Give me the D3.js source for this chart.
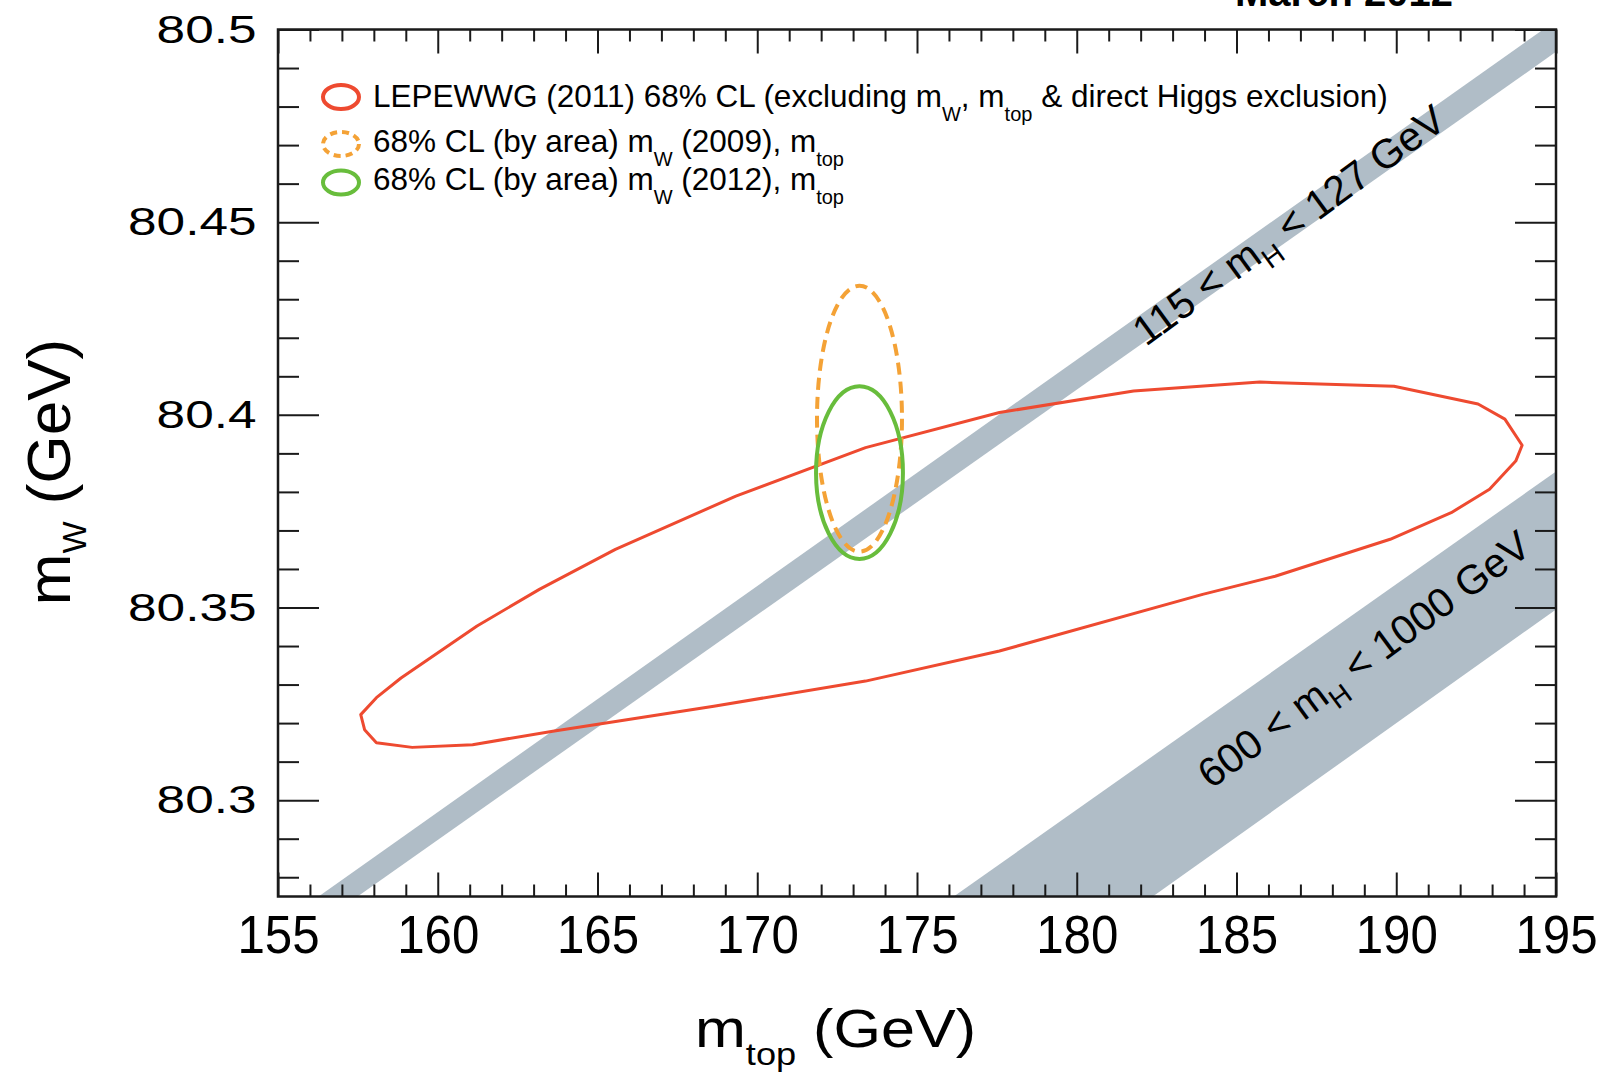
<!DOCTYPE html>
<html>
<head>
<meta charset="utf-8">
<script src="https://cdn.jsdelivr.net/npm/d3@7"></script>
<style>
body { margin: 0; background: #fff; }
svg { display: block; font-family: "Liberation Sans", Arial, Helvetica, sans-serif; }
</style>
</head>
<body>
<svg id="chart" width="1605" height="1081"></svg>
<script>
// axis ranges and ticks
var xDomain = [155, 195];
var yDomain = [80.275, 80.5];
var xTicks = [155, 160, 165, 170, 175, 180, 185, 190, 195];
var yTicks = [80.3, 80.35, 80.4, 80.45, 80.5];
var yTickLabels = ["80.3", "80.35", "80.4", "80.45", "80.5"];

// LEPEWWG (2011) 68% CL contour
var contourMtop = [157.59, 158.08, 158.85, 161.23, 163.18, 165.56, 169.33, 173.39, 177.58, 181.78,
                   185.73, 189.93, 192.56, 193.40, 193.94, 193.74, 192.92, 191.72, 189.81, 186.21,
                   183.94, 177.58, 173.39, 168.64, 163.60, 161.09, 159.20, 158.08, 157.71];
var contourMw   = [80.3222, 80.3266, 80.3317, 80.3452, 80.3547, 80.3651, 80.3789, 80.3915, 80.4006, 80.4062,
                   80.4085, 80.4074, 80.4028, 80.3989, 80.3921, 80.3880, 80.3807, 80.3746, 80.3677, 80.3581,
                   80.3534, 80.3387, 80.3309, 80.3244, 80.3179, 80.3144, 80.3137, 80.3149, 80.3183];

// direct measurements (68% CL by area): mW 2009 and mW 2012 with mtop
var measYear    = ["2009", "2012"];
var measMtop    = [173.2, 173.2];
var measMtopErr = [1.33, 1.36];
var measMw      = [80.399, 80.385];
var measMwErr   = [0.0345, 0.0224];

// SM prediction bands for two mH ranges (corners inside the frame)
var bandName   = ["115 < m_{H} < 127 GeV", "600 < m_{H} < 1000 GeV"];
var bandMtop   = [[156.27, 194.6, 195, 195, 157.49], [176.15, 195, 195, 182.38]];
var bandMw     = [[80.275, 80.5, 80.5, 80.4942, 80.275], [80.275, 80.3853, 80.3495, 80.275]];
var bandLabelMtop = [186.9, 189.25];
var bandLabelMw   = [80.4463, 80.3336];

var legendText = [
  "LEPEWWG (2011) 68% CL (excluding m_{W}, m_{top} & direct Higgs exclusion)",
  "68% CL (by area) m_{W} (2009), m_{top}",
  "68% CL (by area) m_{W} (2012), m_{top}"
];

var red = "#ee4a30", orange = "#f4a236", green = "#68bd3c", bandColor = "#b0bdc7";

var svg = d3.select("#chart");
var x = d3.scaleLinear().domain(xDomain).range([278, 1556]);
var y = d3.scaleLinear().domain(yDomain).range([896.5, 29.5]);

// text with _{sub} parts
function richText(sel, str, subSize, shift) {
  var parts = str.split(/_\{([^}]*)\}/);
  parts.forEach(function(p, i) {
    if (!p) return;
    var t = sel.append("tspan").text(p);
    if (i % 2 === 1) t.attr("font-size", subSize).attr("dy", shift);
    else if (i > 0) t.attr("dy", -shift);
  });
  return sel;
}

svg.append("defs").append("clipPath").attr("id", "plot")
   .append("rect")
     .attr("x", x(155)).attr("y", y(80.5))
     .attr("width", x(195) - x(155)).attr("height", y(80.275) - y(80.5));

var plot = svg.append("g").attr("clip-path", "url(#plot)");

// bands
plot.selectAll("path.band")
    .data(bandMtop)
    .enter()
    .append("path")
      .attr("class", "band")
      .attr("fill", bandColor)
      .attr("d", function(d, i) {
        return d3.line()(d.map(function(m, j) { return [x(m), y(bandMw[i][j])]; })) + "Z";
      });

// red contour
var contour = contourMtop.map(function(m, i) { return [x(m), y(contourMw[i])]; });
plot.append("path")
    .attr("d", d3.line().curve(d3.curveLinearClosed)(contour))
    .attr("fill", "none")
    .attr("stroke", red)
    .attr("stroke-width", 3)
    .attr("stroke-linejoin", "round");

// measurement ellipses
plot.selectAll("ellipse.meas")
    .data(measYear)
    .enter()
    .append("ellipse")
      .attr("class", "meas")
      .attr("cx", function(d, i) { return x(measMtop[i]); })
      .attr("cy", function(d, i) { return y(measMw[i]); })
      .attr("rx", function(d, i) { return x(measMtop[i] + measMtopErr[i]) - x(measMtop[i]); })
      .attr("ry", function(d, i) { return y(measMw[i]) - y(measMw[i] + measMwErr[i]); })
      .attr("fill", "none")
      .attr("stroke", function(d, i) { return i === 0 ? orange : green; })
      .attr("stroke-width", 4)
      .attr("stroke-dasharray", function(d, i) { return i === 0 ? "12,7" : null; });

// band labels
bandName.forEach(function(name, i) {
  var m = bandMtop[i], w = bandMw[i], n = m.length - 1;
  // lower edge runs from the last corner to the corner before it
  var ang = Math.atan((y(w[n - 1]) - y(w[n])) / (x(m[n - 1]) - x(m[n]))) * 180 / Math.PI - 1;
  var px = x(bandLabelMtop[i]), py = y(bandLabelMw[i]);
  var t = svg.append("text")
     .attr("transform", "translate(" + px + "," + py + ") rotate(" + ang + ")")
     .attr("text-anchor", "middle")
     .attr("font-size", 41)
     .attr("fill", "#000");
  richText(t, name, 28, 11);
});

// axes: ticks on all four sides, pointing inward
function drawAxis(axis, tx, ty) {
  var g = svg.append("g").attr("transform", "translate(" + tx + "," + ty + ")").call(axis);
  g.select(".domain").remove();
  g.selectAll("line").attr("stroke", "#1a1a1a").attr("stroke-width", 2);
  return g;
}

var xMinor = d3.range(155, 196).filter(function(v) { return v % 5 !== 0; });
var yMinor = d3.range(28, 50).filter(function(v) { return v % 5 !== 0; }).map(function(v) { return 80 + v / 100; });

var gx = drawAxis(d3.axisBottom(x).tickValues(xTicks).tickSize(-24).tickPadding(19), 0, y(80.275));
gx.selectAll("text")
  .attr("font-size", 53)
  .attr("font-family", "Liberation Sans, Arial, sans-serif")
  .attr("fill", "#000")
  .attr("transform", "scale(0.93,1)");
drawAxis(d3.axisBottom(x).tickValues(xMinor).tickSize(-12).tickFormat(""), 0, y(80.275));
drawAxis(d3.axisTop(x).tickValues(xTicks).tickSize(-24).tickFormat(""), 0, y(80.5));
drawAxis(d3.axisTop(x).tickValues(xMinor).tickSize(-12).tickFormat(""), 0, y(80.5));

var gy = drawAxis(d3.axisLeft(y).tickValues(yTicks).tickSize(-41)
                   .tickFormat(function(d, i) { return yTickLabels[i]; }), x(155), 0);
gy.selectAll("text")
  .attr("font-size", 39.5)
  .attr("font-family", "Liberation Sans, Arial, sans-serif")
  .attr("fill", "#000")
  .attr("x", -21.5 / 1.3)
  .attr("transform", "scale(1.3,1)");
drawAxis(d3.axisLeft(y).tickValues(yMinor).tickSize(-21).tickFormat(""), x(155), 0);
drawAxis(d3.axisRight(y).tickValues(yTicks).tickSize(-41).tickFormat(""), x(195), 0);
drawAxis(d3.axisRight(y).tickValues(yMinor).tickSize(-21).tickFormat(""), x(195), 0);

// frame
svg.append("rect")
   .attr("x", x(155)).attr("y", y(80.5))
   .attr("width", x(195) - x(155)).attr("height", y(80.275) - y(80.5))
   .attr("fill", "none")
   .attr("stroke", "#1a1a1a")
   .attr("stroke-width", 2.5);

// axis titles
var xt = svg.append("text")
   .attr("x", 695).attr("y", 1047)
   .attr("font-size", 54)
   .attr("textLength", 281)
   .attr("lengthAdjust", "spacingAndGlyphs");
richText(xt, "m_{top} (GeV)", 32, 18);

var yt = svg.append("text")
   .attr("transform", "translate(70,472) rotate(-90)")
   .attr("text-anchor", "middle")
   .attr("font-size", 62);
richText(yt, "m_{W} (GeV)", 34, 16);

// legend
var legendY = [107.3, 151.7, 190];
var legendSym = [97, 144, 182.5];
var legendColor = [red, orange, green];
legendText.forEach(function(txt, i) {
  svg.append("ellipse")
     .attr("cx", 341).attr("cy", legendSym[i])
     .attr("rx", 18).attr("ry", 12)
     .attr("fill", "none")
     .attr("stroke", legendColor[i])
     .attr("stroke-width", 4)
     .attr("stroke-dasharray", i === 1 ? "7,5" : null);
  var t = svg.append("text")
     .attr("x", 373).attr("y", legendY[i])
     .attr("font-size", 31.5)
     .attr("fill", "#000");
  richText(t, txt, 20, 14);
});

// date stamp, cut by the top edge as in the original
svg.append("text")
   .attr("x", 1235).attr("y", 5.5)
   .attr("font-size", 40)
   .attr("font-weight", "bold")
   .text("March 2012");
</script>
</body>
</html>
